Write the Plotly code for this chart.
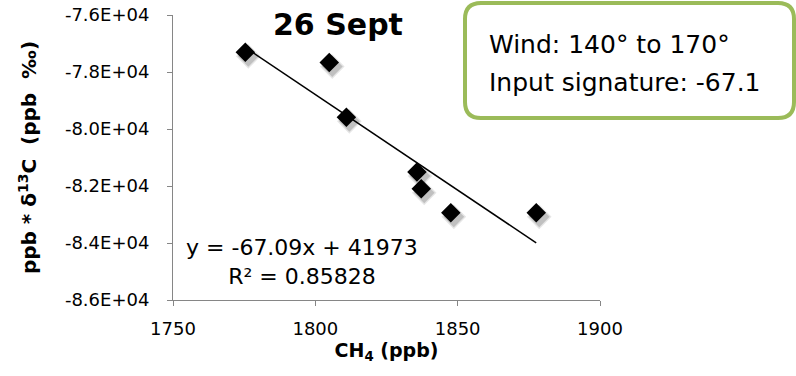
import plotly.graph_objects as go

# CH4 mixing ratio (ppb) and the product CH4 * d13C (ppb * permil), 26 September
ch4_ppb = [1775.4, 1804.9, 1810.9, 1835.7, 1837.2, 1847.6, 1877.6]
ch4_x_d13c = [-77310, -77670, -79590, -81510, -82100, -82940, -82940]

# Keeling-style fit reported on the chart
fit_slope = -67.09
fit_intercept = 41973
fit_r2 = 0.85828

title_text = "26 Sept"
wind_text = "Wind: 140° to 170°"
signature_text = "Input signature: -67.1"

x_ticks = [1750, 1800, 1850, 1900]
y_ticks = [-86000, -84000, -82000, -80000, -78000, -76000]
y_tick_labels = ["-8.6E+04", "-8.4E+04", "-8.2E+04", "-8.0E+04", "-7.8E+04", "-7.6E+04"]

W, H = 796, 376
# plotting rectangle in pixels
PL, PR, PT, PB = 173, 600, 15, 300
# shadow offset in pixels
SX, SY = 3, 4
ML, MR, MT, MB = PL, W - PR - SX, PT, H - PB - SY
PW, PH = W - ML - MR, H - MT - MB

FONT = "DejaVu Sans"
AXIS_GREY = "#868686"
CLEAR = "rgba(0,0,0,0)"


def px(x):
    return (x - ML) / PW


def py(y):
    return (H - MB - y) / PH


fit_x = [min(ch4_ppb), max(ch4_ppb)]
fit_y = [fit_slope * v + fit_intercept for v in fit_x]

fig = go.Figure()

# soft drop shadow under the markers, drawn on an offset copy of the axes
for size, alpha in [(19, 0.10), (16, 0.16)]:
    fig.add_trace(go.Scatter(
        x=ch4_ppb, y=ch4_x_d13c, mode="markers", xaxis="x2", yaxis="y2",
        marker=dict(symbol="diamond", size=size, color=f"rgba(0,0,0,{alpha})", line=dict(width=0)),
        hoverinfo="skip", showlegend=False,
    ))

fig.add_trace(go.Scatter(
    x=fit_x, y=fit_y, mode="lines",
    line=dict(color="black", width=1.5), showlegend=False,
))
fig.add_trace(go.Scatter(
    x=ch4_ppb, y=ch4_x_d13c, mode="markers",
    marker=dict(symbol="diamond", size=15, color="black", line=dict(width=0)),
    showlegend=False,
))

axis_common = dict(
    showgrid=False, zeroline=False, showline=True, linecolor=AXIS_GREY, linewidth=1,
    ticks="outside", ticklen=5, tickcolor=AXIS_GREY, tickwidth=1,
    tickfont=dict(family=FONT, size=18, color="black"),
)

fig.update_layout(
    width=W, height=H,
    margin=dict(l=ML, r=MR, t=MT, b=MB, autoexpand=False),
    paper_bgcolor="white", plot_bgcolor=CLEAR,
    xaxis=dict(
        range=[1750, 1900], tickvals=x_ticks, domain=[px(PL), px(PR)],
        ticklabelstandoff=7,
        title=dict(text="CH<sub>4</sub> (ppb)", font=dict(family=FONT, size=19, color="black", weight="bold"), standoff=6),
        **axis_common,
    ),
    yaxis=dict(
        range=[-86000, -76000], tickvals=y_ticks, ticktext=y_tick_labels, domain=[py(PB), py(PT)],
        ticklabelstandoff=14,
        title=dict(text="ppb * δ<sup>13</sup>C\u00a0\u00a0(ppb\u00a0\u00a0‰)",
                   font=dict(family=FONT, size=20, color="black", weight="bold"), standoff=22),
        **axis_common,
    ),
    xaxis2=dict(range=[1750, 1900], domain=[px(PL + SX), px(PR + SX)], anchor="y2", visible=False),
    yaxis2=dict(range=[-86000, -76000], domain=[py(PB + SY), py(PT + SY)], anchor="x2", visible=False),
)

# chart title
fig.add_annotation(
    text=f"<b>{title_text}</b>", xref="paper", yref="paper",
    x=px(338), y=py(24), showarrow=False,
    xanchor="center", yanchor="middle", font=dict(family=FONT, size=30, color="black"),
)

# trend line equation and R²
fig.add_annotation(
    text=f"y = {fit_slope:.2f}x + {fit_intercept}<br>R² = {fit_r2:.5f}",
    xref="paper", yref="paper", x=px(302), y=py(262),
    showarrow=False, xanchor="center", yanchor="middle", align="center",
    font=dict(family=FONT, size=22, color="black"),
)

# rounded callout box
bx0, bx1, by0, by1, rad = 465, 794, 3, 118, 16
path = (
    f"M {px(bx0 + rad)} {py(by0)} L {px(bx1 - rad)} {py(by0)} "
    f"Q {px(bx1)} {py(by0)} {px(bx1)} {py(by0 + rad)} "
    f"L {px(bx1)} {py(by1 - rad)} Q {px(bx1)} {py(by1)} {px(bx1 - rad)} {py(by1)} "
    f"L {px(bx0 + rad)} {py(by1)} Q {px(bx0)} {py(by1)} {px(bx0)} {py(by1 - rad)} "
    f"L {px(bx0)} {py(by0 + rad)} Q {px(bx0)} {py(by0)} {px(bx0 + rad)} {py(by0)} Z"
)
fig.add_shape(type="path", path=path, xref="paper", yref="paper",
              line=dict(color="#9BBB59", width=4), fillcolor="white", layer="above")

for line_text, line_y in [(wind_text, 44), (signature_text, 82)]:
    fig.add_annotation(
        text=line_text, xref="paper", yref="paper",
        x=px(487), y=py(line_y), showarrow=False, xanchor="left", yanchor="middle", align="left",
        font=dict(family=FONT, size=25, color="black"),
    )

fig.write_html("out.html")
